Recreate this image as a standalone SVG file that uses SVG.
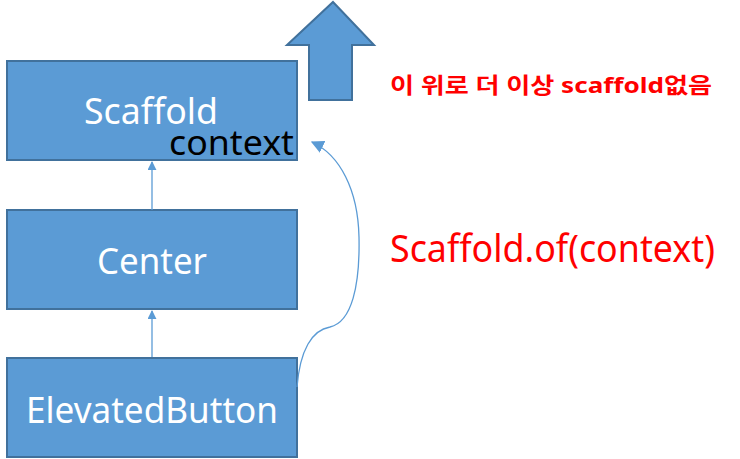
<svg xmlns="http://www.w3.org/2000/svg" width="740" height="459" viewBox="0 0 740 459">
<defs>
<style>
.box{fill:#5B9BD5;stroke:#41719C;stroke-width:2}
.wt{fill:#FFFFFF;font-family:"Noto Sans","Open Sans",sans-serif;font-size:36px}
.bk{fill:#000000;font-family:"Noto Sans","Open Sans",sans-serif;font-size:35px}
.red{fill:#FF0000;font-family:"Noto Sans","Noto Sans CJK KR",sans-serif}
.conn{stroke:#5B9BD5;stroke-width:1.3;fill:none}
</style>
<marker id="ah" viewBox="0 0 10 10" refX="9" refY="5" markerWidth="9" markerHeight="9" markerUnits="userSpaceOnUse" orient="auto">
<path d="M0,0 L10,5 L0,10 Z" fill="#5B9BD5"/>
</marker>
<marker id="ah2" viewBox="0 0 10 10" refX="9" refY="5" markerWidth="13" markerHeight="13" markerUnits="userSpaceOnUse" orient="auto">
<path d="M0,0 L10,5 L0,10 Z" fill="#5B9BD5"/>
</marker>
</defs>
<rect width="740" height="459" fill="#FFFFFF"/>
<g id="up-arrow">
<path d="M333,2 L374,45 L352,45 L352,100 L309,100 L309,45 L287,45 Z" class="box"/>
</g>
<g id="scaffold">
<rect x="7" y="61" width="290" height="99" class="box"/>
<text x="84" y="124" class="wt" textLength="134" lengthAdjust="spacingAndGlyphs">Scaffold</text>
<text x="169" y="155" class="bk" textLength="125" lengthAdjust="spacingAndGlyphs">context</text>
</g>
<g id="center">
<rect x="7" y="210" width="290" height="99" class="box"/>
<text x="97" y="274" class="wt" textLength="110" lengthAdjust="spacingAndGlyphs">Center</text>
</g>
<g id="elevatedbutton">
<rect x="7" y="358" width="290" height="99" class="box"/>
<text x="26" y="423" class="wt" textLength="252" lengthAdjust="spacingAndGlyphs">ElevatedButton</text>
</g>
<g id="connectors">
<line x1="152" y1="210" x2="152" y2="162" class="conn" marker-end="url(#ah)"/>
<line x1="152" y1="357" x2="152" y2="311" class="conn" marker-end="url(#ah)"/>
<path d="M297,387 C300,350 312,330 330,327 C352,322 360,285 359,237 C358,190 340,155 312,142" class="conn" marker-end="url(#ah2)"/>
</g>
<g id="labels">
<text x="390" y="93" class="red" font-size="22" font-weight="bold" textLength="322" lengthAdjust="spacingAndGlyphs">이 위로 더 이상 scaffold없음</text>
<text x="390" y="262" class="red" font-size="38" textLength="325" lengthAdjust="spacingAndGlyphs">Scaffold.of(context)</text>
</g>
</svg>
